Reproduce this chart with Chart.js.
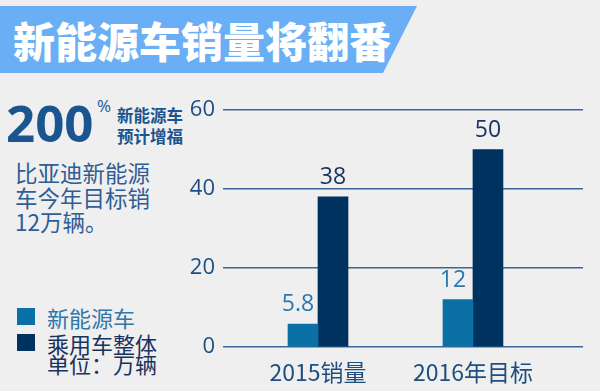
<!DOCTYPE html>
<html>
<head>
<meta charset="utf-8">
<script src="https://cdn.jsdelivr.net/npm/chart.js@4/dist/chart.umd.min.js"></script>
<style>
  html, body { margin:0; padding:0; background:#efefef; }
  #wrap { position:relative; width:600px; height:391px; overflow:hidden; background:#efefef;
          font-family:"Noto Sans CJK SC","Noto Sans",sans-serif; }
  #c { position:absolute; left:0; top:0; }
  .abs { position:absolute; white-space:nowrap; }
  #banner { left:0; top:6px; width:417px; height:67px; background:#6aaff5;
            clip-path:polygon(0 0,100% 0,calc(100% - 34px) 100%,0 100%); }
  #title { left:13px; top:6px; height:67px; line-height:67px; font-size:42px; font-weight:900; color:#fff; }
  #big { left:6px; top:92px; font-size:51px; line-height:60px; font-weight:bold; color:#1b5590; font-family:"Open Sans","Noto Sans",sans-serif; }
  #pct { left:97px; top:96px; font-size:17px; line-height:20px; color:#1b5590; font-family:"Open Sans",sans-serif; }
  #small { left:117px; top:105px; font-size:16.5px; line-height:21px; font-weight:bold; color:#1b5590; }
  #para { left:15px; top:160px; font-size:22.5px; line-height:24.5px; color:#2f5e95; }
  #legend { left:17px; top:304px; }
  .li { position:relative; height:26px; line-height:26px; font-size:22px; white-space:nowrap; }
  .sw { position:absolute; left:0; top:4px; width:18px; height:17px; }
  .lt { position:absolute; left:30px; top:0; }
  #unit { left:47px; top:350px; font-size:22px; line-height:26px; color:#17335e; }
</style>
</head>
<body>
<div id="wrap">
  <div id="banner" class="abs"></div>
  <div id="title" class="abs">新能源车销量将翻番</div>
  <div id="big" class="abs">200</div>
  <div id="pct" class="abs">%</div>
  <div id="small" class="abs">新能源车<br>预计增福</div>
  <div id="para" class="abs">比亚迪新能源<br>车今年目标销<br>12万辆。</div>
  <div id="legend" class="abs"></div>
  <div id="unit" class="abs">单位：万辆</div>
  <canvas id="c" width="600" height="391"></canvas>
</div>
<script>
// ---- data ----
const categories = ['2015销量', '2016年目标'];
const seriesNames = ['新能源车', '乘用车整体'];
const newEnergy = [5.8, 12];
const totalCars = [38, 50];
const yTicks = [0, 20, 40, 60];

const colors = ['#0b70a6', '#00325f'];
const labelColors = ['#2a78ad', '#1b3560'];
const legendTextColors = ['#2f77a8', '#17335e'];

// HTML legend built from series
const legend = document.getElementById('legend');
seriesNames.forEach((n, i) => {
  const d = document.createElement('div');
  d.className = 'li';
  d.innerHTML = '<span class="sw" style="background:' + colors[i] + '"></span><span class="lt" style="color:' + legendTextColors[i] + '">' + n + '</span>';
  legend.appendChild(d);
});

const valueLabels = {
  id: 'valueLabels',
  afterDatasetsDraw(chart) {
    const ctx = chart.ctx;
    ctx.save();
    ctx.font = '23px "Open Sans","Noto Sans",sans-serif';
    ctx.textAlign = 'center';
    ctx.textBaseline = 'alphabetic';
    chart.data.datasets.forEach((ds, di) => {
      const meta = chart.getDatasetMeta(di);
      meta.data.forEach((el, i) => {
        ctx.fillStyle = labelColors[di];
        const dx = di === 0 ? -5 : 0;
        ctx.fillText(String(ds.data[i].y), el.x + dx, el.y - 13);
      });
    });
    ctx.restore();
  }
};

new Chart(document.getElementById('c'), {
  type: 'bar',
  data: {
    datasets: [
      { label: seriesNames[0], data: newEnergy.map((v, i) => ({ x: i, y: v })), backgroundColor: colors[0], barThickness: 30 },
      { label: seriesNames[1], data: totalCars.map((v, i) => ({ x: i, y: v })), backgroundColor: colors[1], barThickness: 30 }
    ]
  },
  options: {
    responsive: false,
    animation: false,
    devicePixelRatio: 1,
    layout: { padding: { left: 188, right: 17, top: 110, bottom: 0 } },
    plugins: { legend: { display: false }, tooltip: { enabled: false } },
    scales: {
      x: {
        type: 'linear',
        min: -0.613, max: 1.71,
        offset: false,
        grid: { display: false },
        border: { display: false },
        afterBuildTicks: s => { s.ticks = categories.map((c, i) => ({ value: i })); },
        afterFit: s => { s.height = 44; },
        ticks: {
          autoSkip: false, maxRotation: 0, padding: 3,
          color: '#1e4e80',
          font: { size: 23, family: '"Noto Sans CJK SC","Open Sans",sans-serif' },
          callback: v => categories[v]
        }
      },
      y: {
        min: 0, max: 60,
        afterBuildTicks: s => { s.ticks = yTicks.map(v => ({ value: v })); },
        afterFit: s => { s.width = 35; },
        grid: { color: '#3a6696', lineWidth: 1.5, drawTicks: false },
        border: { display: false },
        ticks: {
          padding: 8, color: '#1e4e80',
          font: { size: 22, family: '"Open Sans","Noto Sans",sans-serif' }
        }
      }
    }
  },
  plugins: [valueLabels]
});
</script>
</body>
</html>
